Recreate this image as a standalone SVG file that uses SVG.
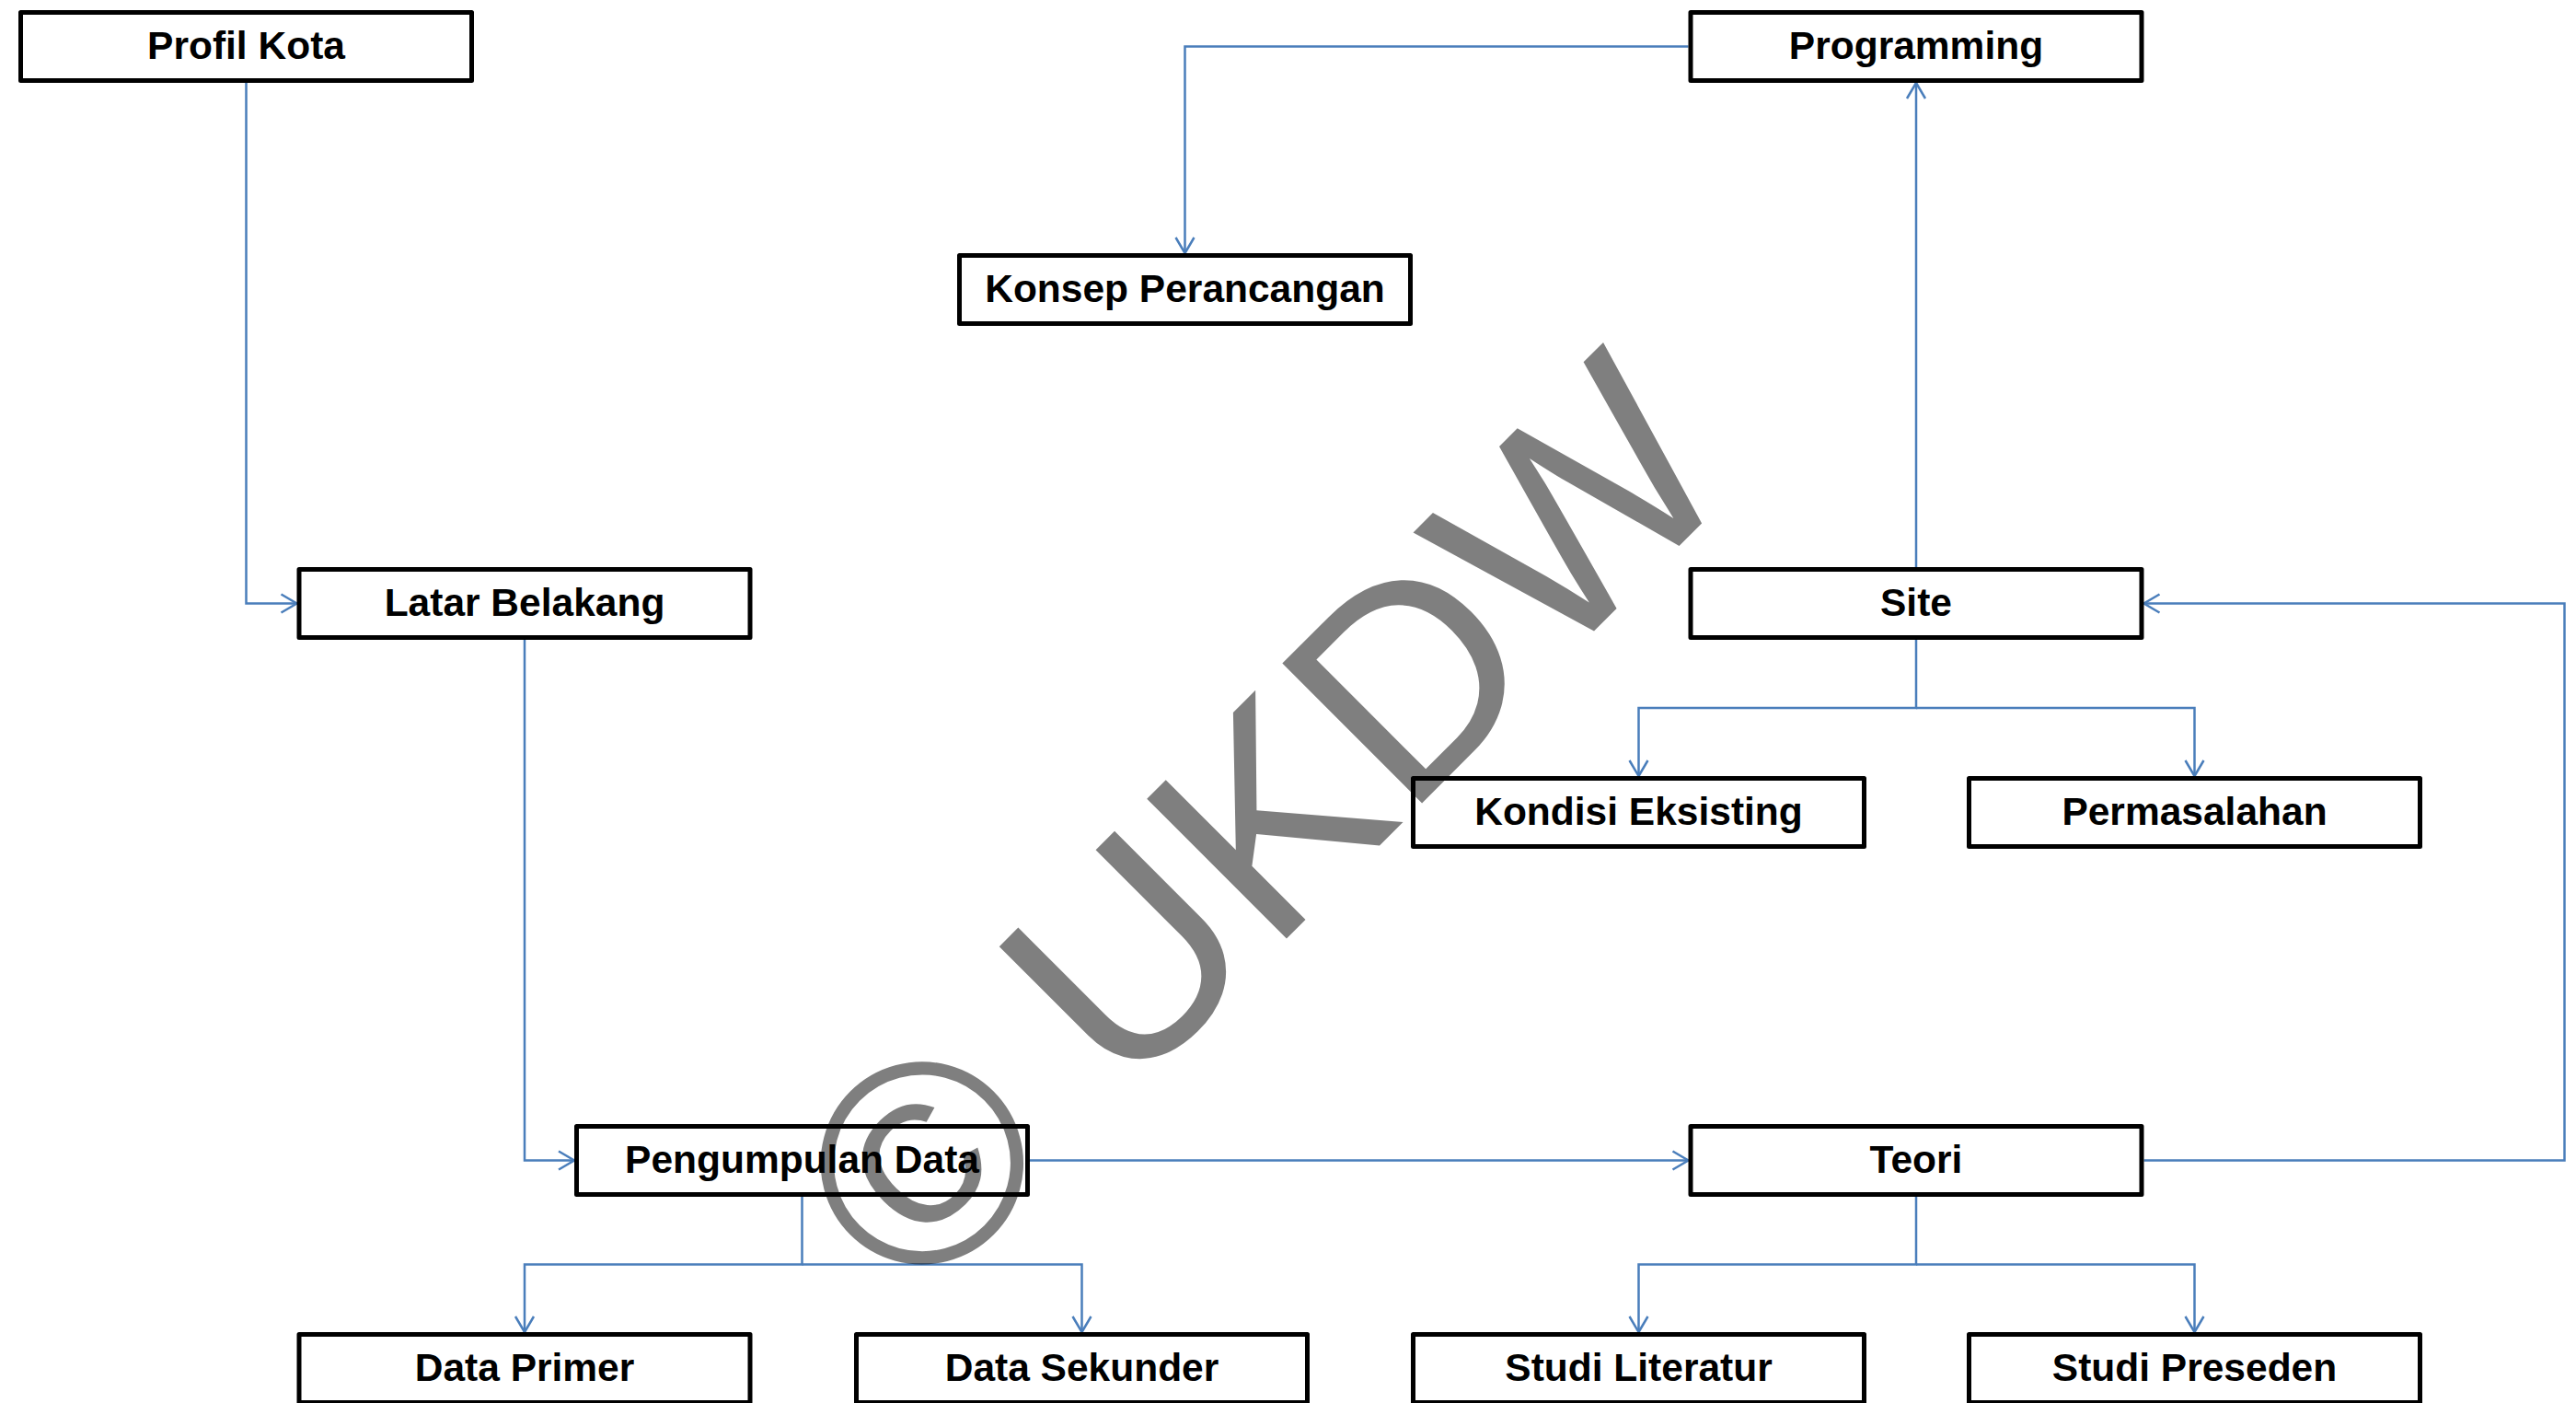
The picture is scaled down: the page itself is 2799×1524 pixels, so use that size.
<svg xmlns="http://www.w3.org/2000/svg" width="2799" height="1524" viewBox="0 0 2799 1524">
<style>
.box rect{fill:#fff;stroke:#000;stroke-width:5;stroke-linejoin:round}
.box text{font-family:"Liberation Sans",Arial,sans-serif;font-weight:bold;font-size:42.5px;text-anchor:middle;fill:#000}
.conn path{fill:none;stroke:#4A7EBB;stroke-width:2.5}
.wm{font-family:"Liberation Sans",Arial,sans-serif;font-size:312px;fill:#000;fill-opacity:0.5}
</style>
<defs>
<marker id="arr" markerUnits="userSpaceOnUse" markerWidth="24" markerHeight="24" viewBox="-20 -12 24 24" refX="0" refY="0" orient="auto">
<path d="M-17,-10 L0,0 L-17,10" fill="none" stroke="#4A7EBB" stroke-width="2.5"/>
</marker>
</defs>
<rect width="2799" height="1524" fill="#fff"/>
<g class="conn">
<path d="M267.5 90 V655.5 H322.5" marker-end="url(#arr)"/>
<path d="M570 695 V1260.5 H624" marker-end="url(#arr)"/>
<path d="M1119 1260.5 H1834.5" marker-end="url(#arr)"/>
<path d="M871.5 1300 V1373.5 H570 V1447" marker-end="url(#arr)"/>
<path d="M871.5 1373.5 H1175.5 V1447" marker-end="url(#arr)"/>
<path d="M2082 1300 V1373.5 H1780.5 V1447" marker-end="url(#arr)"/>
<path d="M2082 1373.5 H2384.5 V1447" marker-end="url(#arr)"/>
<path d="M2329.5 1260.5 H2786.5 V655.5 H2329.5" marker-end="url(#arr)"/>
<path d="M2082 616 V90" marker-end="url(#arr)"/>
<path d="M1834.5 50.5 H1287.5 V275" marker-end="url(#arr)"/>
<path d="M2082 695 V769 H1780.5 V843" marker-end="url(#arr)"/>
<path d="M2082 769 H2384.5 V843" marker-end="url(#arr)"/>
</g>
<g id="profil-kota" class="box"><rect x="22.5" y="13.5" width="490" height="74"/><text x="267.5" y="63.5">Profil Kota</text></g>
<g id="programming" class="box"><rect x="1837" y="13.5" width="490" height="74"/><text x="2082" y="63.5">Programming</text></g>
<g id="konsep-perancangan" class="box"><rect x="1042.5" y="277.5" width="490" height="74"/><text x="1287.5" y="328">Konsep Perancangan</text></g>
<g id="latar-belakang" class="box"><rect x="325" y="618.5" width="490" height="74"/><text x="570" y="668.5">Latar Belakang</text></g>
<g id="site" class="box"><rect x="1837" y="618.5" width="490" height="74"/><text x="2082" y="668.5">Site</text></g>
<g id="kondisi-eksisting" class="box"><rect x="1535.5" y="845.5" width="490" height="74"/><text x="1780.5" y="895.5">Kondisi Eksisting</text></g>
<g id="permasalahan" class="box"><rect x="2139.5" y="845.5" width="490" height="74"/><text x="2384.5" y="895.5">Permasalahan</text></g>
<g id="pengumpulan-data" class="box"><rect x="626.5" y="1223.5" width="490" height="74"/><text x="871.5" y="1273.5">Pengumpulan Data</text></g>
<g id="teori" class="box"><rect x="1837" y="1223.5" width="490" height="74"/><text x="2082" y="1273.5">Teori</text></g>
<g id="data-primer" class="box"><rect x="325" y="1449.5" width="490" height="74"/><text x="570" y="1499.5">Data Primer</text></g>
<g id="data-sekunder" class="box"><rect x="930.5" y="1449.5" width="490" height="74"/><text x="1175.5" y="1499.5">Data Sekunder</text></g>
<g id="studi-literatur" class="box"><rect x="1535.5" y="1449.5" width="490" height="74"/><text x="1780.5" y="1499.5">Studi Literatur</text></g>
<g id="studi-preseden" class="box"><rect x="2139.5" y="1449.5" width="490" height="74"/><text x="2384.5" y="1499.5">Studi Preseden</text></g>
<text class="wm" x="996.7" y="1420.8" transform="rotate(-45 996.7 1420.8)">© UKDW</text>
</svg>
